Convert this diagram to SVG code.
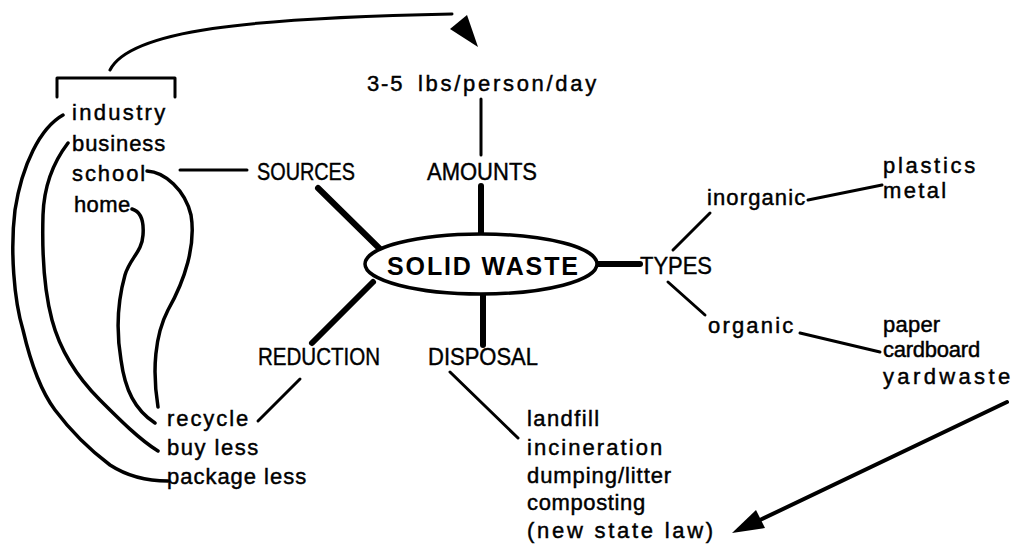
<svg xmlns="http://www.w3.org/2000/svg" width="1015" height="551" viewBox="0 0 1015 551">
<style>
.t{font-family:"Liberation Sans",Arial,sans-serif;font-size:22px;fill:#000;stroke:#000;stroke-width:0.45;letter-spacing:1.8px}
.u{font-family:"Liberation Sans",Arial,sans-serif;font-size:23px;fill:#000;stroke:#000;stroke-width:0.4}
.b{font-family:"Liberation Sans",Arial,sans-serif;font-size:25px;font-weight:bold;fill:#000}
.thin{stroke:#000;stroke-width:3;fill:none;stroke-linecap:round;stroke-linejoin:round}
.thick{stroke:#000;stroke-width:6;fill:none;stroke-linecap:round}
</style>
<rect width="1015" height="551" fill="#fff"/>
<g id="connectors">
<path class="thin" d="M57,97 V78 H175 V97"/>
<path class="thin" d="M110,70 C130,30 250,18 452,14"/>
<polygon points="478,47 450,29 467,15" fill="#000"/>
<line class="thin" x1="481" y1="99" x2="481" y2="155"/>
<line class="thick" x1="481" y1="186" x2="481" y2="236"/>
<line class="thin" x1="180" y1="170" x2="247" y2="170"/>
<line class="thick" x1="318" y1="188" x2="380" y2="249"/>
<line class="thick" x1="312" y1="343" x2="373" y2="282"/>
<line class="thick" x1="483" y1="294" x2="483" y2="345"/>
<line class="thick" x1="597" y1="264" x2="640" y2="264"/>
<line class="thin" x1="673" y1="250" x2="710" y2="213"/>
<line class="thin" x1="668" y1="282" x2="705" y2="315"/>
<line class="thin" x1="808" y1="200" x2="882" y2="185"/>
<line class="thin" x1="800" y1="333" x2="880" y2="352"/>
<line class="thin" x1="450" y1="372" x2="518" y2="438"/>
<line class="thin" x1="258" y1="421" x2="300" y2="379"/>
<line class="thin" style="stroke-width:4" x1="1007" y1="402" x2="760" y2="520"/>
<polygon points="732,533 765,528 756,510" fill="#000"/>
<path class="thin" style="stroke-width:3.5" d="M63,115 C40,128 22,165 15,210 C10,250 14,300 23,330 C30,360 40,390 55,410 C70,430 90,450 110,465 C130,478 150,481 168,481"/>
<path class="thin" style="stroke-width:3.5" d="M68,143 C55,160 44,185 43,215 C42,250 44,290 52,320 C60,350 75,375 100,400 C120,420 140,440 158,451"/>
<path class="thin" style="stroke-width:3.5" d="M147,171 C165,172 185,190 191,215 C196,245 185,280 168,310 C155,335 152,370 158,407"/>
<path class="thin" style="stroke-width:3.5" d="M132,209 C142,212 144,222 143,235 C142,252 130,258 125,275 C118,300 116,330 121,360 C125,390 135,410 155,423"/>
</g>
<g id="solid-waste">
<ellipse cx="481" cy="264" rx="116" ry="30" fill="#fff" stroke="#000" stroke-width="3.5"/>
<text class="b" x="387" y="275" textLength="191" lengthAdjust="spacing">SOLID WASTE</text>
</g>
<g id="amounts"><text class="u" x="427" y="180" textLength="110" lengthAdjust="spacingAndGlyphs">AMOUNTS</text></g>
<g id="amount-value"><text class="t" x="367" y="91">3-5</text><text class="t" x="418" y="91" textLength="180">lbs/person/day</text></g>
<g id="sources"><text class="u" x="257" y="180" textLength="98" lengthAdjust="spacingAndGlyphs">SOURCES</text></g>
<g id="source-list">
<text class="t" x="72" y="120" textLength="95">industry</text>
<text class="t" x="72" y="151" textLength="95">business</text>
<text class="t" x="72" y="181" textLength="75">school</text>
<text class="t" x="74" y="212" textLength="58">home</text>
</g>
<g id="reduction"><text class="u" x="258" y="365" textLength="122" lengthAdjust="spacingAndGlyphs">REDUCTION</text></g>
<g id="reduction-list">
<text class="t" x="167" y="426" textLength="83">recycle</text>
<text class="t" x="167" y="455" textLength="93">buy less</text>
<text class="t" x="167" y="484" textLength="141">package less</text>
</g>
<g id="disposal"><text class="u" x="428" y="365" textLength="110" lengthAdjust="spacingAndGlyphs">DISPOSAL</text></g>
<g id="disposal-list">
<text class="t" x="527" y="426" textLength="74">landfill</text>
<text class="t" x="527" y="455" textLength="137">incineration</text>
<text class="t" x="527" y="483" textLength="146">dumping/litter</text>
<text class="t" x="527" y="510" textLength="120">composting</text>
<text class="t" x="527" y="538" textLength="188">(new state law)</text>
</g>
<g id="types"><text class="u" x="640" y="274" textLength="72" lengthAdjust="spacingAndGlyphs">TYPES</text></g>
<g id="inorganic"><text class="t" x="707" y="205" textLength="100">inorganic</text></g>
<g id="inorganic-list">
<text class="t" x="883" y="173" textLength="94">plastics</text>
<text class="t" x="883" y="198" textLength="65">metal</text>
</g>
<g id="organic"><text class="t" x="708" y="333" textLength="87">organic</text></g>
<g id="organic-list">
<text class="t" x="883" y="332" textLength="59">paper</text>
<text class="t" x="883" y="357" textLength="99">cardboard</text>
<text class="t" x="883" y="384" textLength="129">yardwaste</text>
</g>
</svg>
